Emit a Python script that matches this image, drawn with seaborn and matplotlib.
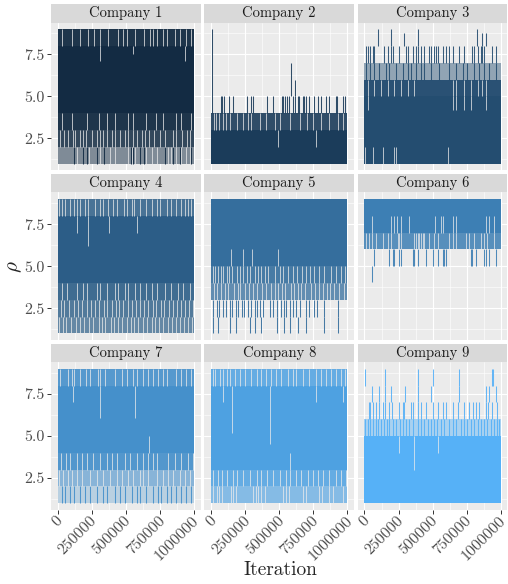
import numpy as np
import matplotlib
matplotlib.use("Agg")
import matplotlib.pyplot as plt
import matplotlib.transforms as mtrans
from matplotlib.colors import LinearSegmentedColormap, to_rgb
from matplotlib.patches import Rectangle
import seaborn as sns

# ---- data --------------------------------------------------------------
companies = [f"Company {i}" for i in range(1, 10)]
n_iter = 1_000_000

# range of rho the chain covers all the time (solid block)
core_lo = [4, 1, 1, 4, 5, 7, 4, 3, 1]
core_hi = [8, 3, 5, 8, 9, 9, 8, 8, 5]

# levels visited part of the time: (low, high, share of iterations)
fringe = {
    1: [(8, 9, 0.95), (3, 4, 0.95), (2, 3, 0.85), (1, 2, 0.5)],
    2: [(3, 4, 0.9)],
    3: [(5, 6, 0.97), (6, 7, 0.45)],
    4: [(8, 9, 0.85), (3, 4, 0.9), (2, 3, 0.8), (1, 2, 0.7)],
    5: [(4, 5, 0.9), (3, 4, 0.75)],
    6: [(6, 7, 0.85)],
    7: [(8, 9, 0.9), (3, 4, 0.92), (2, 3, 0.6), (1, 2, 0.3)],
    8: [(8, 9, 0.85), (2, 3, 0.85), (1, 2, 0.65)],
    9: [(5, 6, 0.45)],
}

# jumps out of the block: (from, to, iterations in thousands)
jumps = {
    1: [(1, 2, [120, 188, 217, 285, 339, 534, 553, 603, 632, 786, 847, 895, 981])],
    2: [(4, 5, [70, 83, 95, 133, 163, 260, 289, 308, 413, 454, 517, 527, 541, 556, 575,
                600, 619, 636, 648, 672, 684, 697, 721, 752, 782, 806, 842, 866, 915,
                927, 968, 983]),
        (4, 9, [5]), (5, 7, [587]), (5, 6, [614])],
    3: [(6, 7, [12, 37, 73, 110, 159, 183, 232, 281, 317, 342, 378, 415, 439, 488, 549,
                622, 671, 720, 756, 805, 842, 878, 915, 964]),
        (7, 8, [12, 24, 37, 61, 73, 146, 171, 195, 207, 256, 305, 317, 354, 378, 390, 415,
                439, 476, 488, 512, 525, 537, 573, 598, 622, 647, 695, 732, 793, 805, 830,
                854, 866, 878, 939, 964]),
        (8, 9, [98, 195, 390, 829]), (8, 8.8, [293, 866, 890])],
    4: [],
    5: [(2, 3, [12, 41, 58, 90, 107, 139, 156, 180, 199, 224, 241, 272, 296, 321, 333,
                357, 382, 430, 454, 484, 515, 532, 552, 576, 600, 625, 649, 697, 722, 758,
                775, 831, 928]),
        (1, 2, [12, 53, 139, 180, 284, 321, 369, 484, 535, 576, 637, 697, 831, 928])],
    6: [(5, 6, [73, 178, 207, 220, 256, 268, 354, 366, 390, 451, 500, 537, 573, 586, 598,
                781, 793, 817, 878, 891, 915, 964]),
        (4.05, 5, [54])],
    7: [(1, 2, [29, 54, 90, 120, 163, 200, 237, 285, 334, 364, 420, 456, 493, 542, 578,
                603, 651, 700, 737, 761, 798, 834, 871, 908, 944, 981])],
    8: [],
    9: [(5, 6, [7, 24, 41, 61, 81, 98, 122, 146, 163, 183, 207, 232, 261, 281, 305, 329,
                354, 390, 415, 439, 464, 488, 512, 530, 561, 586, 622, 647, 671, 708, 732,
                756, 781, 805, 830, 854, 878, 903, 927, 952, 976, 988]),
        (6, 7, [32, 44, 66, 85, 110, 139, 154, 183, 203, 251, 281, 293, 342, 354, 390, 415,
                451, 500, 537, 573, 598, 647, 683, 732, 769, 798, 817, 842, 891, 910, 939,
                976]),
        (7, 8, [56, 105, 154, 195, 300, 390, 488, 695, 895, 915, 964]),
        (8, 9, [7, 154, 390, 500, 695, 934, 944])],
}

# stretches where a level is skipped: (low, high, iterations in thousands)
holes = {
    1: [(8, 9, [29, 102, 163, 220, 268, 310, 371, 444, 476, 510, 566, 632, 676, 700, 725,
                769, 803, 859, 895, 944, 981]),
        (7.1, 8, [310, 932]), (7.5, 8, [554]),
        (3, 4, [29, 102, 217, 302, 358, 420, 512, 553, 646, 724, 773, 871, 907, 980]),
        (2, 3, [15, 49, 73, 110, 127, 163, 188, 207, 249, 285, 310, 334, 359, 395, 420, 456,
                493, 517, 549, 583, 615, 639, 673, 707, 751, 788, 849, 868, 910, 946, 971]),
        (1, 2, [139, 232, 310, 383, 420, 517, 542, 566, 651, 688, 725, 810, 834, 871, 907,
                944, 969])],
    2: [(3, 4, [22, 36, 61, 85, 109, 139, 187, 231, 272, 296, 357, 401, 467, 503, 576, 649,
                702, 751, 807, 868, 928, 965]),
        (2, 3, [490, 772])],
    3: [(1, 2, [7, 61, 134, 220, 232, 610]),
        (5, 6, [24, 73, 122, 171, 220, 268, 317, 366, 647, 671, 732, 781, 830, 866, 891]),
        (4.2, 5, [24, 647, 671, 732, 781, 891])],
    4: [(8, 9, [12, 29, 54, 90, 120, 144, 163, 200, 224, 273, 310, 334, 371, 407, 432, 486,
                505, 542, 559, 603, 651, 688, 725, 749, 798, 834, 871, 908, 932, 956, 981]),
        (7, 8, [139, 378, 578]), (6.2, 8, [224]),
        (3, 4, [29, 66, 139, 188, 217, 285, 310, 359, 420, 444, 493, 517, 566, 603, 651, 688,
                725, 786, 834, 883, 920, 969]),
        (2, 3, [22, 47, 85, 118, 150, 178, 212, 246, 270, 302, 336, 358, 395, 424, 451, 480,
                512, 548, 571, 602, 634, 663, 697, 722, 756, 781, 815, 846, 874, 902, 935,
                962, 990]),
        (1, 2, [10, 35, 60, 100, 130, 165, 195, 230, 262, 300, 325, 350, 390, 415, 440, 470,
                505, 535, 560, 590, 625, 655, 690, 715, 745, 775, 810, 840, 865, 895, 925,
                955, 985])],
    5: [(4, 5, [12, 29, 53, 70, 90, 114, 134, 151, 187, 211, 236, 260, 284, 321, 345, 369,
                394, 418, 467, 503, 527, 564, 600, 629, 668, 697, 727, 758, 795, 831, 880,
                916, 953, 984]),
        (3, 4, [20, 45, 75, 100, 125, 165, 195, 215, 250, 280, 310, 340, 375, 400, 440, 470,
                490, 520, 545, 585, 610, 640, 660, 690, 735, 765, 790, 820, 850, 870, 900,
                940, 975]),
        (5, 6, [143, 231, 301, 491])],
    6: [(7, 8, [56, 195, 220, 237, 268, 329, 520, 561, 573, 647, 671, 891, 915, 952]),
        (6, 7, [12, 32, 54, 85, 134, 171, 195, 244, 256, 268, 366, 378, 390, 403, 415, 427,
                439, 476, 512, 537, 622, 647, 671, 744, 769, 805, 854, 878, 903, 952])],
    7: [(8, 9, [17, 78, 102, 120, 163, 207, 237, 298, 310, 346, 420, 468, 505, 554, 578, 627,
                664, 700, 737, 773, 798, 871, 908, 944, 981]),
        (6.1, 8, [310, 566]), (7, 8, [115]), (4, 5, [671]),
        (3, 4, [22, 61, 90, 144, 176, 217, 261, 310, 359, 395, 432, 493, 529, 578, 622, 664,
                700, 725, 810, 859, 908, 956, 993]),
        (2, 3, [12, 41, 78, 102, 139, 176, 237, 285, 334, 383, 432, 468, 517, 554, 603, 627,
                664, 725, 773, 810, 847, 895, 932, 969])],
    8: [(8, 9, [12, 29, 66, 90, 114, 139, 175, 211, 248, 296, 333, 369, 406, 442, 479, 515,
                564, 600, 625, 673, 722, 770, 807, 843, 880, 916, 953, 984]),
        (7, 8, [90, 770, 965]), (5.2, 8, [151]), (4.5, 8, [430]), (3, 4, [576]),
        (2, 3, [17, 53, 78, 114, 158, 187, 236, 284, 333, 369, 411, 454, 503, 552, 576, 620,
                661, 710, 746, 782, 819, 868, 916, 953, 989]),
        (1, 2, [17, 41, 61, 78, 143, 163, 182, 309, 328, 345, 369, 394, 527, 552, 571, 673,
                697, 795, 814, 868, 892, 965])],
    9: [(4, 5, [256, 537]), (3, 5, [366])],
}

x_ticks = [0, 250000, 500000, 750000, 1000000]
y_ticks = [2.5, 5.0, 7.5]

# ---- style --------------------------------------------------------------
bg = "#EBEBEB"
sns.set_theme(style="darkgrid", rc={
    "axes.facecolor": bg,
    "grid.color": "white",
    "axes.edgecolor": bg,
    "axes.linewidth": 0,
})
plt.rcParams["font.family"] = ["cmr10", "DejaVu Serif"]
plt.rcParams["mathtext.fontset"] = "cm"
plt.rcParams["axes.formatter.use_mathtext"] = True

cmap = LinearSegmentedColormap.from_list("gg", ["#132B43", "#56B1F7"])
colors = [cmap(i / 8) for i in range(9)]


def mix(c, share):
    """Opaque colour of a band that is only partly covered by the trace."""
    a, b = np.array(to_rgb(c)), np.array(to_rgb(bg))
    return tuple(share * a + (1 - share) * b)


fig, axes = plt.subplots(3, 3, figsize=(5.08, 5.84), dpi=100, sharex=True, sharey=True)
W, H = 508, 584
fig.subplots_adjust(left=51 / W, right=507.5 / W, top=1 - 22.5 / H, bottom=1 - 510 / H,
                    wspace=0.0234, hspace=0.149)
strip_h = 18.5 / 147.8

for i, ax in enumerate(axes.flat):
    n = i + 1
    c = colors[i]
    mid = (core_lo[i] + core_hi[i]) / 2
    # outer bands first, each reaching into the block so no seams show
    bands = sorted(fringe[n], key=lambda b: -abs((b[0] + b[1]) / 2 - mid))
    for lo, hi, share in bands:
        y0, y1 = (lo, mid) if hi <= core_lo[i] else (mid, hi)
        ax.fill_between([0, n_iter], y0, y1, color=mix(c, share), lw=0)
    ax.fill_between([0, n_iter], core_lo[i], core_hi[i], color=c, lw=0)
    for lo, hi, ks in jumps[n]:
        ax.vlines(np.array(ks) * 1000, lo, hi, colors=[c], lw=0.75, alpha=0.9)
    for lo, hi, ks in holes[n]:
        ax.vlines(np.array(ks) * 1000, lo, hi, colors=bg, lw=0.7, alpha=0.75)

    ax.set_xlim(-50000, 1050000)
    ax.set_ylim(0.6, 9.4)
    ax.set_xticks(x_ticks)
    ax.set_xticks([125000, 375000, 625000, 875000], minor=True)
    ax.set_yticks(y_ticks)
    ax.set_yticks([1.25, 3.75, 6.25, 8.75], minor=True)
    ax.grid(which="major", color="white", lw=0.8)
    ax.grid(which="minor", color="white", lw=0.4)
    ax.set_axisbelow(True)
    for s in ax.spines.values():
        s.set_visible(False)

    ax.add_patch(Rectangle((0, 1), 1, strip_h, transform=ax.transAxes,
                           facecolor="#D9D9D9", edgecolor="none", clip_on=False))
    ax.text(0.5, 1 + strip_h / 2, companies[i], transform=ax.transAxes,
            ha="center", va="center", fontsize=10.5, color="#1A1A1A")

    row, col = divmod(i, 3)
    ax.tick_params(which="minor", length=0)
    ax.tick_params(which="major", left=(col == 0), bottom=(row == 2), length=3,
                   width=0.7, color="#333333", labelsize=11.5, labelcolor="#4D4D4D",
                   labelbottom=False)
    ax.tick_params(axis="y", pad=1.5)
    if col == 0:
        ax.set_yticklabels(["2.5", "5.0", "7.5"])
    if row == 2:
        shift = mtrans.ScaledTranslation(5.5 / 100, -11 / 100, fig.dpi_scale_trans)
        tr = ax.get_xaxis_transform() + shift
        for v in x_ticks:
            ax.text(v, 0, str(v), transform=tr, rotation=45, ha="right", va="baseline",
                    rotation_mode="anchor", fontsize=11.5, color="#4D4D4D", clip_on=False)

fig.text(0.03, 1 - 267 / H, r"$\rho$", rotation=90, fontsize=15,
         ha="center", va="center")
fig.text(280 / W, 1 - 570 / H, "Iteration", fontsize=14, ha="center", va="center")

fig.savefig("out.png", dpi=100)
